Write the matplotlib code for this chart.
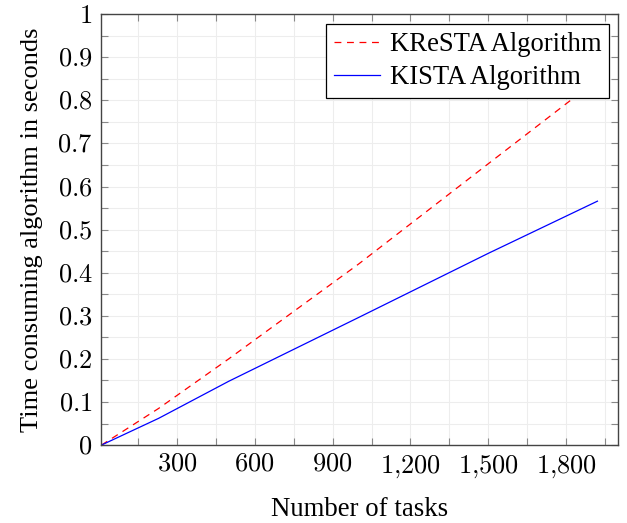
import numpy as np
import matplotlib.pyplot as plt
from matplotlib.ticker import MultipleLocator, FuncFormatter

plt.rcParams['font.family'] = ['Liberation Serif', 'DejaVu Serif']
plt.rcParams['mathtext.fontset'] = 'cm'

tasks = [10, 230, 500, 1000, 1500, 1920]
kresta = [0.0, 0.085, 0.200, 0.420, 0.653, 0.848]
kista = [0.0, 0.062, 0.148, 0.296, 0.445, 0.566]

xticks = [300, 600, 900, 1200, 1500, 1800]
yticks = [0, 0.1, 0.2, 0.3, 0.4, 0.5, 0.6, 0.7, 0.8, 0.9, 1.0]

fig = plt.figure(figsize=(6.27, 5.23), dpi=100)
ax = fig.add_axes([0.161, 0.149, 0.825, 0.824])

ax.plot(tasks, kresta, color='red', lw=0.9, linestyle=(0, (5.5, 4.5)), label='KReSTA Algorithm')
ax.plot(tasks, kista, color='blue', lw=0.9, label='KISTA Algorithm')

ax.set_xlim(8, 2000)
ax.set_ylim(0, 1)
ax.set_xticks(xticks)
ax.set_yticks(yticks)
ax.xaxis.set_minor_locator(MultipleLocator(150))
ax.yaxis.set_minor_locator(MultipleLocator(0.05))
ax.xaxis.set_major_formatter(FuncFormatter(lambda v, p: '$' + f'{int(v):,}'.replace(',', '{,}') + '$'))
ax.yaxis.set_major_formatter(FuncFormatter(lambda v, p: f'${v:g}$'))

ax.grid(which='both', color='#ededed', lw=0.8)
ax.set_axisbelow(True)
ax.tick_params(which='both', direction='in', top=True, right=True,
               color='#888888', width=0.8, labelsize=19)
ax.tick_params(which='major', length=5, pad=6)
ax.tick_params(which='minor', length=5)
for s in ax.spines.values():
    s.set_color('#444444')
    s.set_linewidth(1.0)

ax.set_xlabel('Number of tasks', fontsize=19.3, labelpad=12)
ax.set_ylabel('Time consuming algorithm in seconds', fontsize=19, labelpad=10)

leg = ax.legend(loc='upper right', fontsize=19.2, fancybox=False, framealpha=1,
                edgecolor='black', bbox_to_anchor=(0.983, 0.977), borderaxespad=0,
                handlelength=1.75, handletextpad=0.35,
                borderpad=0.3, labelspacing=0.3)
leg.get_frame().set_linewidth(0.9)

fig.savefig('out.png', dpi=100)
